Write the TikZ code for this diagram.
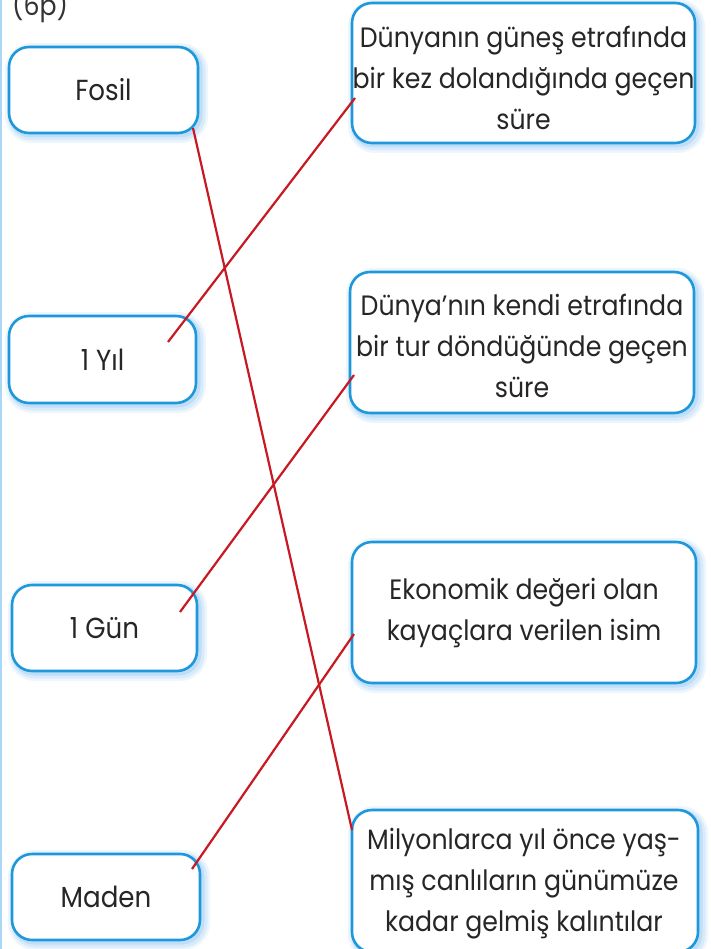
\documentclass[tikz,border=0pt]{standalone}
\usepackage{fontspec}
\setmainfont{Poppins}
\newfontfamily\cardfont[FakeStretch=0.9]{Poppins}
\definecolor{boxblue}{RGB}{30,152,218}
\definecolor{glowblue}{RGB}{90,170,240}
\definecolor{linered}{RGB}{200,25,35}
\definecolor{edgeblue}{RGB}{170,215,245}
\tikzset{
  card/.style={draw=boxblue, line width=2.6pt, rounded corners=20pt, fill=white,
    preaction={draw=glowblue, line width=14pt, draw opacity=0.10, transform canvas={shift={(3pt,-3pt)}}},
    preaction={draw=glowblue, line width=9pt, draw opacity=0.14, transform canvas={shift={(3pt,-3pt)}}},
    preaction={draw=glowblue, line width=5pt, draw opacity=0.2, transform canvas={shift={(2pt,-2pt)}}},
    inner sep=0pt, text=black!85},
  leftcard/.style={card, font=\cardfont\fontsize{29}{32}\selectfont},
  rightcard/.style={card, align=center, font=\cardfont\fontsize{28}{41}\selectfont},
  cardtext/.style={align=center, font=\cardfont\fontsize{28}{41}\selectfont, text=black!85, inner sep=0pt},
  match/.style={draw=linered, line width=2.2pt}
}
\begin{document}
\begin{tikzpicture}[x=1pt,y=-1pt]
\useasboundingbox (0,0) rectangle (711,949);
\fill[white] (0,0) rectangle (711,949);
\draw[edgeblue, line width=2.5pt] (1,0) -- (1,949);
\node[anchor=base west, font=\cardfont\fontsize{28}{32}\selectfont, text=black!80, inner sep=0pt] (score) at (12,16) {(6p)};

\node[leftcard, minimum width=189pt, minimum height=86pt] (fosil) at (103.5,90) {Fosil};
\node[leftcard, minimum width=187pt, minimum height=87pt] (yil) at (102.5,359.5) {1 Yıl};
\node[leftcard, minimum width=185pt, minimum height=86pt] (gun) at (104.5,628) {1 Gün};
\node[leftcard, minimum width=188pt, minimum height=86pt] (maden) at (106,897) {Maden};

\node[rightcard, minimum width=343pt, minimum height=140pt] (r1) at (523.5,73) {};
\node[cardtext] (t1) at (523.5,78)
  {Dünyanın güneş etrafında\\bir kez dolandığında geçen\\süre};
\node[rightcard, minimum width=344pt, minimum height=141pt] (r2) at (522,342.5) {};
\node[cardtext] (t2) at (522,346)
  {Dünya’nın kendi etrafında\\bir tur döndüğünde geçen\\süre};
\node[rightcard, minimum width=344pt, minimum height=141pt] (r3) at (524,612.5)
  {Ekonomik değeri olan\\kayaçlara verilen isim};
\node[rightcard, minimum width=346pt, minimum height=142pt] (r4) at (525,881) {};
\node[cardtext] (t4) at (524,884)
  {Milyonlarca yıl önce yaş-\\mış canlıların günümüze\\kadar gelmiş kalıntılar};

\coordinate (fosilEnd) at (193,128);
\coordinate (r4End) at (352,830);
\coordinate (yilEnd) at (168,342);
\coordinate (r1End) at (355,98);
\coordinate (gunEnd) at (180,612);
\coordinate (r2End) at (354,375);
\coordinate (madenEnd) at (192,869);
\coordinate (r3End) at (354,634);

\draw[match] (fosilEnd) -- (r4End);
\draw[match] (yilEnd) -- (r1End);
\draw[match] (gunEnd) -- (r2End);
\draw[match] (madenEnd) -- (r3End);
\end{tikzpicture}
\end{document}
